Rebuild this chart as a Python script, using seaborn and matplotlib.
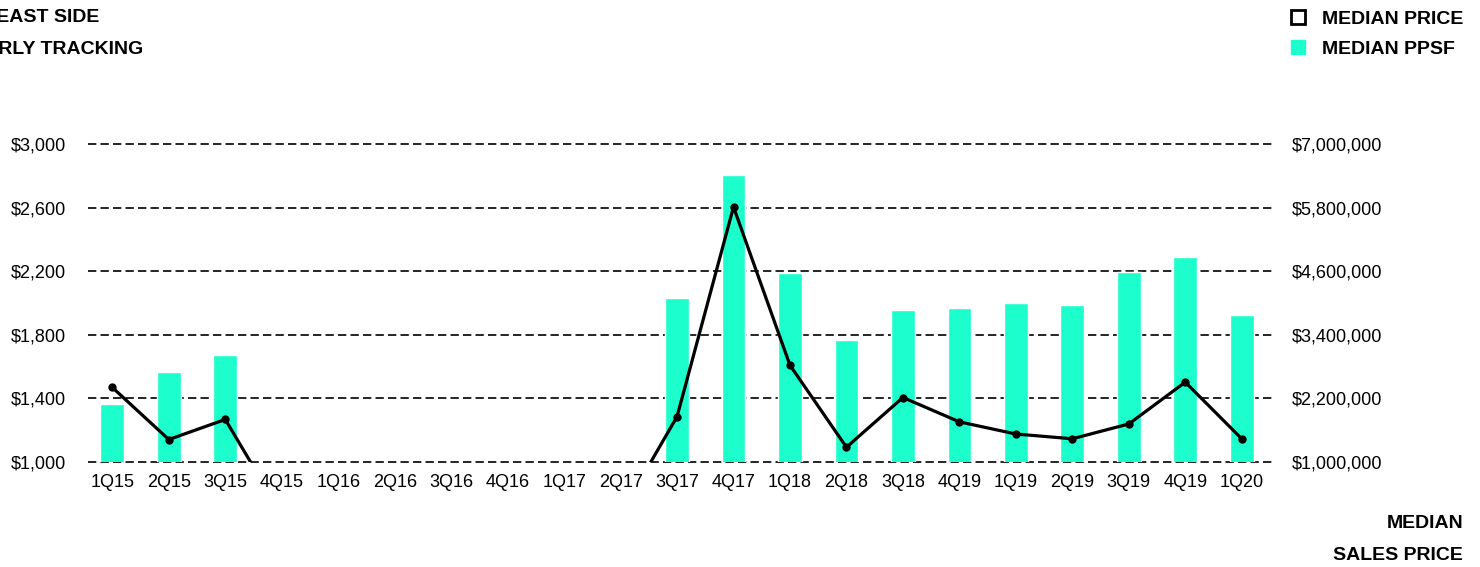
import numpy as np
import pandas as pd
import seaborn as sns
from matplotlib import pyplot as plt
from matplotlib.patches import Patch
from matplotlib.ticker import FuncFormatter

quarters = ['1Q15', '2Q15', '3Q15', '4Q15', '1Q16', '2Q16', '3Q16', '4Q16',
            '1Q17', '2Q17', '3Q17', '4Q17', '1Q18', '2Q18', '3Q18', '4Q19',
            '1Q19', '2Q19', '3Q19', '4Q19', '1Q20']
# median price per square foot (bars, left axis); quarters with no data left empty
median_ppsf = [1360, 1562, 1669, np.nan, np.nan, np.nan, np.nan, np.nan,
               np.nan, np.nan, 2028, 2804, 2188, 1765, 1954, 1967,
               1998, 1986, 2194, 2288, 1923]
# median sales price (line, right axis); no-data quarters drop to zero
median_price = [2400000, 1416000, 1795000, 0, 0, 0, 0, 0,
                0, 0, 1850000, 5810000, 2820000, 1270000, 2210000, 1750000,
                1520000, 1430000, 1710000, 2500000, 1430000]

ppsf_ticks = [1000, 1400, 1800, 2200, 2600, 3000]
price_ticks = [1000000, 2200000, 3400000, 4600000, 5800000, 7000000]

bar_color = '#1cffcc'

df = pd.DataFrame({'pos': range(len(quarters)), 'ppsf': median_ppsf,
                   'price': median_price})

sns.set_style('white')
plt.rcParams['font.family'] = ['Liberation Sans', 'DejaVu Sans']
plt.rcParams['text.color'] = 'black'
plt.rcParams['xtick.color'] = 'black'
plt.rcParams['ytick.color'] = 'black'

fig = plt.figure(figsize=(14.8, 5.67), dpi=100)
ax = fig.add_axes([0.0595, 0.186, 0.8005, 0.560])

sns.barplot(data=df, x='pos', y='ppsf', ax=ax, color=bar_color,
            width=0.42, saturation=1)
ax.set_ylim(1000, 3000)
ax.set_xlim(-0.43, 20.55)
ax.set_yticks(ppsf_ticks)
ax.yaxis.set_major_formatter(FuncFormatter(lambda v, p: '${:,.0f}'.format(v)))
ax.set_xticks(range(len(quarters)))
ax.set_xticklabels(quarters)
ax.grid(axis='y', color='black', linestyle=(0, (5, 2.5)), linewidth=1.2)
ax.grid(axis='x', visible=False)
for gl in ax.get_ygridlines():
    gl.set_clip_on(False)
ax.set_axisbelow(True)
ax.set_xlabel('')
ax.set_ylabel('')
ax.tick_params(axis='y', length=0, pad=16, labelsize=13)
ax.tick_params(axis='x', length=0, pad=9, labelsize=13)
sns.despine(ax=ax, left=True, bottom=True)

ax2 = ax.twinx()
sns.lineplot(data=df, x='pos', y='price', ax=ax2, color='black',
             linewidth=2.3, marker='o', markersize=6, markeredgewidth=0)
ax2.set_ylim(1000000, 7000000)
ax2.set_yticks(price_ticks)
ax2.yaxis.set_major_formatter(FuncFormatter(lambda v, p: '${:,.0f}'.format(v)))
ax2.tick_params(axis='y', length=0, pad=14, labelsize=13)
ax2.set_ylabel('')
ax2.grid(False)
sns.despine(ax=ax2, left=True, bottom=True, right=True)
ax.set_xlim(-0.43, 20.55)

# header, cropped at the left edge like the source
W, H = 1480, 567
fig.text(99 / W, 1 - 18 / H, 'UPPER EAST SIDE', ha='right', va='center',
         fontsize=14, fontweight='bold')
fig.text(143 / W, 1 - 49 / H, 'QUARTERLY TRACKING', ha='right', va='center',
         fontsize=14, fontweight='bold')

handles = [Patch(facecolor='white', edgecolor='black', linewidth=2),
           Patch(facecolor=bar_color, edgecolor=bar_color)]
fig.legend(handles, ['MEDIAN PRICE', 'MEDIAN PPSF'], loc='upper right',
           bbox_to_anchor=(1463 / W, 1 - 10 / H), frameon=False,
           prop={'weight': 'bold', 'size': 14}, handlelength=0.7,
           handleheight=0.7, handletextpad=0.85, labelspacing=0.65,
           borderpad=0, borderaxespad=0)

# axis captions at the bottom
fig.text(2 / W, 1 - 523 / H, 'MEDIAN', ha='right', va='center',
         fontsize=14, fontweight='bold')
fig.text(1463 / W, 1 - 523 / H, 'MEDIAN', ha='right', va='center',
         fontsize=14, fontweight='bold')
fig.text(1463 / W, 1 - 555 / H, 'SALES PRICE', ha='right', va='center',
         fontsize=14, fontweight='bold')

fig.savefig('out.png', dpi=100)
